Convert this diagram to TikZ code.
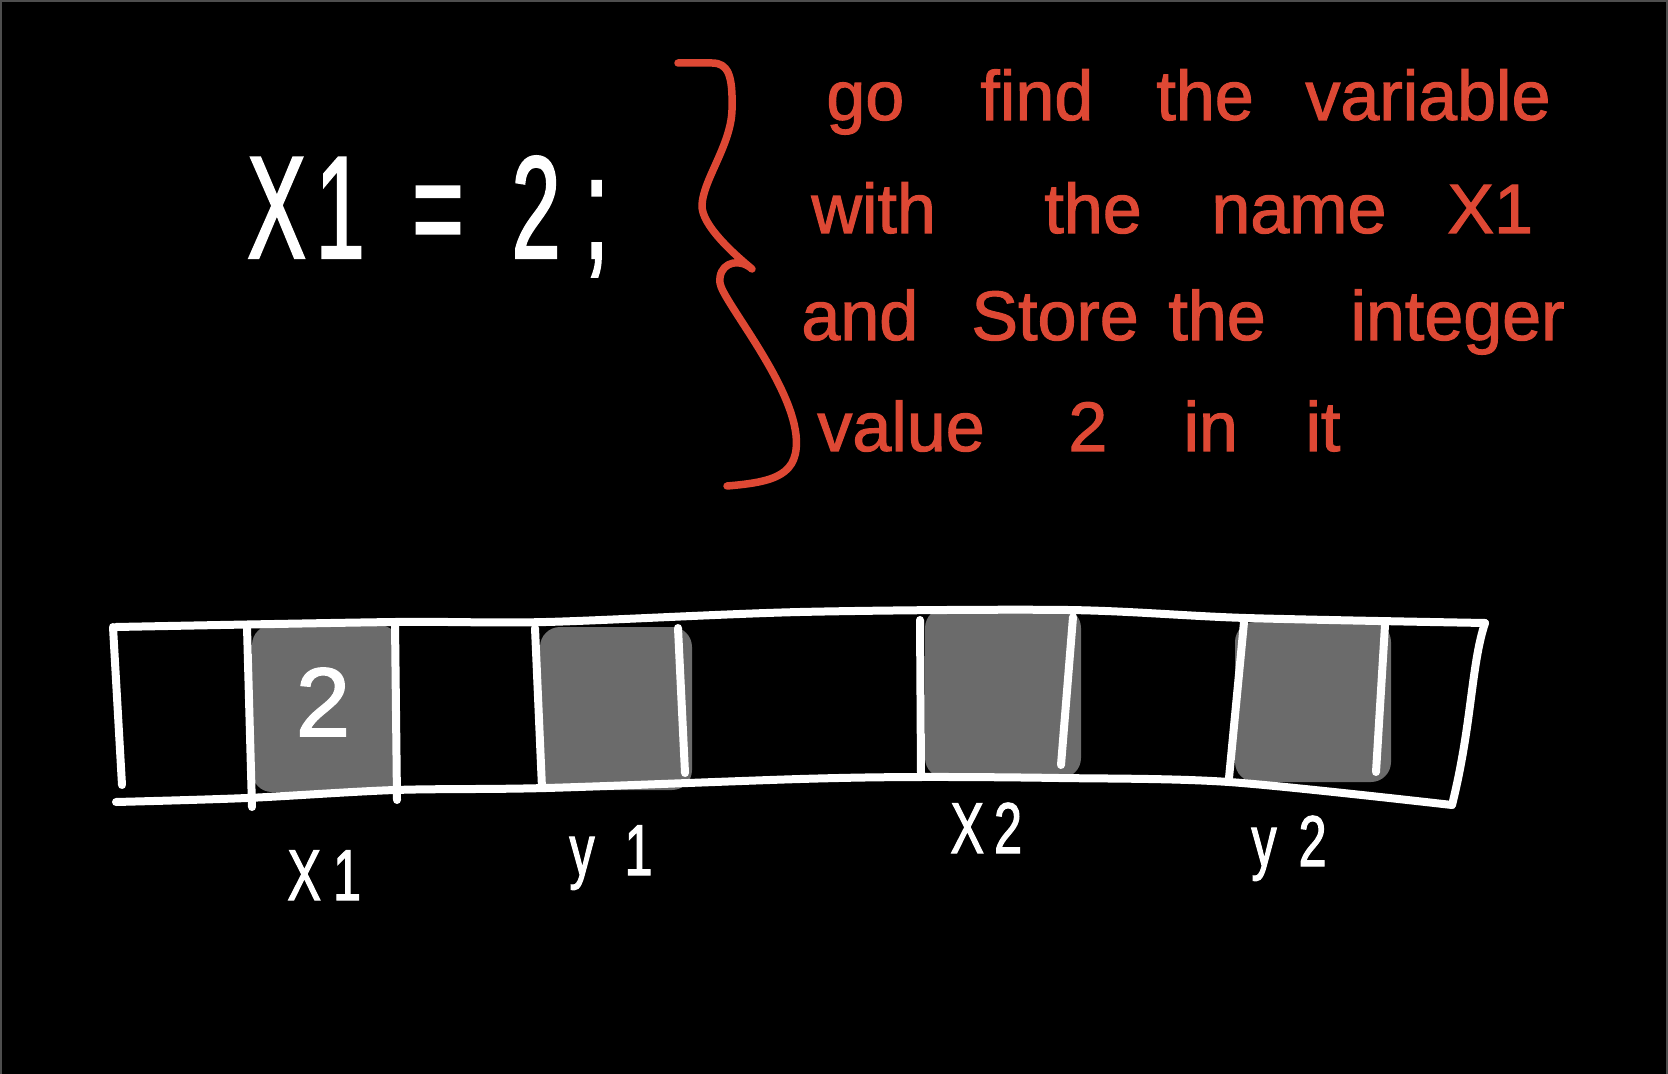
\documentclass[tikz,border=0pt]{standalone}
\usepackage{fontspec}
\setmainfont{Liberation Sans}
\newfontfamily\inkfont[FakeBold=1.5]{Liberation Sans}
\newfontfamily\chalkfont[FakeStretch=0.6,FakeBold=1.5]{Liberation Sans}
\newfontfamily\tagfont[FakeStretch=0.7,FakeBold=1.5]{Liberation Sans}
\definecolor{inkred}{RGB}{222,72,52}
\definecolor{cellgray}{RGB}{107,107,107}
\definecolor{framegray}{RGB}{78,78,78}
\tikzset{
	px/.style={x=0.5pt,y=-0.5pt},
	chalk/.style={draw=white,line width=4pt,line cap=round,line join=round},
	inkline/.style={draw=inkred,line width=3.75pt,line cap=round,line join=round},
	cellfill/.style={fill=cellgray,rounded corners=10pt},
	note/.style={anchor=base west,inner sep=0pt,text=inkred,font=\inkfont\fontsize{35}{35}\selectfont},
	tag/.style={anchor=base west,inner sep=0pt,text=white,font=\tagfont\fontsize{36}{36}\selectfont}
		}
\begin{document}
\begin{tikzpicture}[px]

  % board
  \fill[black] (0,0) rectangle (1668,1074);
  \useasboundingbox (0,0) rectangle (1668,1074);
  \draw[framegray,line width=1pt] (1,1074) -- (1,1) -- (1667,1) -- (1667,1074);

  % the statement
  \node[anchor=base west,inner sep=0pt,text=white,
        font=\chalkfont\fontsize{73}{73}\selectfont] (stmt) at (247,258)
        {\spaceskip=24pt X\kern5pt{}1 = 2\kern12pt{};};

  % brace, upper and lower half
  \draw[inkline] (678,63) -- (712,63) .. controls (728,63) and (733,75) .. (732,110)
     .. controls (731,145) and (703,180) .. (702,205)
     .. controls (701,225) and (735,255) .. (752,269);
  \draw[inkline] (748,266) .. controls (735,258) and (718,265) .. (720,283)
     .. controls (722,300) and (790,380) .. (796,435)
     .. controls (800,475) and (775,482) .. (727,486);

  % the note, word by word
  \foreach \word/\xx/\yy [count=\i] in {go/826/120, find/980/120, the/1156/120, variable/1305/120,
      with/811/233, the/1044/233, name/1211/233, X1/1447/233,
      and/801/340, Store/971/340, the/1168/340, integer/1350/340,
      value/817/451, 2/1068/451, in/1183/451, it/1305/451}
    \node[note] (w\i) at (\xx,\yy) {\word};

  % used cells
  \fill[cellfill] (252,625) rectangle (399,792);
  \fill[cellfill] (540,627) rectangle (692,790);
  \fill[cellfill] (925,608) rectangle (1081,778);
  \fill[cellfill] (1235,622) rectangle (1391,782);

  % memory strip
  \draw[chalk] plot[smooth] coordinates {(116,627) (395,622) (546,622) (800,612) (1068,610) (1246,618) (1485,623)};
  \draw[chalk] plot[smooth] coordinates {(116,802) (247,798) (395,790) (546,788) (800,779) (920,777) (1059,778) (1229,782) (1452,805)};
  \draw[chalk] (113,627) -- (122,785);
  \draw[chalk] (1485,623) .. controls (1471,665) and (1472,725) .. (1452,805);
  \foreach \xa/\ya/\xb/\yb in {247/627/252/807, 395/623/397/800, 535/628/542/788, 678/628/685/773,
      920/620/921/775, 1073/617/1061/765, 1244/622/1229/778, 1385/625/1376/772}
    \draw[chalk] (\xa,\ya) -- (\xb,\yb);

  % value and names
  \node[text=white,inner sep=0pt,font=\inkfont\fontsize{49}{49}\selectfont] (v2) at (323,702) {2};
  \node[tag] (lx1) at (287,900) {X\kern6pt{}1};
  \node[tag] (ly1) at (569,875) {y\kern15pt{}1};
  \node[tag] (lx2) at (950,853) {X\kern5pt{}2};
  \node[tag] (ly2) at (1251,866) {y\kern11pt{}2};
\end{tikzpicture}
\end{document}
